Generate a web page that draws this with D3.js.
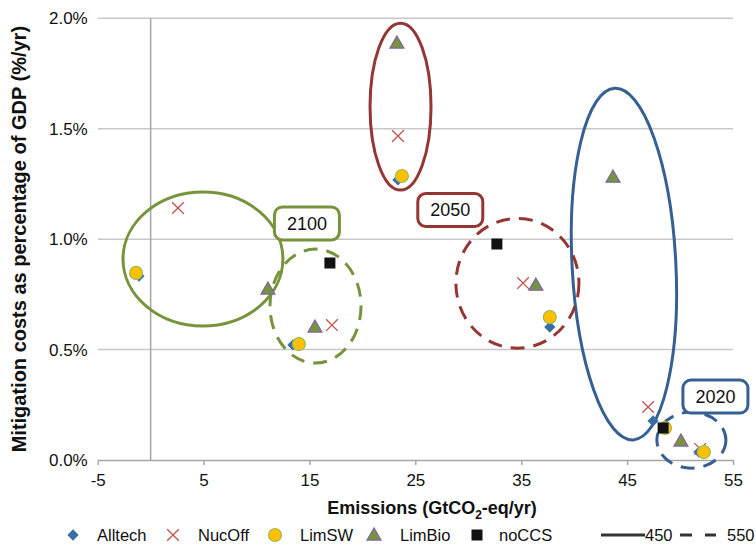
<!DOCTYPE html>
<html>
<head>
<meta charset="utf-8">
<script src="https://cdn.jsdelivr.net/npm/d3@7"></script>
<style>
  body { margin: 0; background: #fff; }
  text { font-family: "Liberation Sans", Arial, Helvetica, sans-serif; }
</style>
</head>
<body>
<div id="chart"></div>
<script>
// data (emissions GtCO2-eq/yr, cost % GDP)
const cases = ["2020-450", "2020-550", "2050-450", "2050-550", "2100-450", "2100-550"];
const seriesNames = ["Alltech", "NucOff", "LimSW", "LimBio", "noCCS"];

const alltechX = [47.45, 51.78, 23.36, 37.7, -1.1, 13.44];
const alltechY = [0.177, 0.036, 1.268, 0.602, 0.833, 0.521];
const nucoffX = [46.98, 51.9, 23.36, 35.17, 2.58, 17.12];
const nucoffY = [0.24, 0.05, 1.467, 0.801, 1.141, 0.611];
const limswX = [48.58, 52.25, 23.73, 37.7, -1.38, 14.0];
const limswY = [0.145, 0.036, 1.286, 0.647, 0.847, 0.525];
const limbioX = [43.67, 50.08, 23.26, 36.38, 11.08, 15.52];
const limbioY = [1.281, 0.086, 1.888, 0.792, 0.774, 0.602];
const noccsX = [48.4, null, null, 32.7, null, 16.93];
const noccsY = [0.145, null, null, 0.978, null, 0.892];

const xTicks = [-5, 5, 15, 25, 35, 45, 55];
const yTicks = [0, 0.5, 1.0, 1.5, 2.0];

// groupings drawn as ellipses (data units)
const groupYear = ["2020", "2020", "2050", "2050", "2100", "2100"];
const groupTarget = ["450", "550", "450", "550", "450", "550"];
const groupCx = [44.7, 51.07, 23.6, 34.64, 4.94, 15.57];
const groupCy = [0.887, 0.09, 1.60, 0.80, 0.91, 0.697];
const groupRx = [4.9, 3.26, 2.88, 5.81, 7.55, 4.3];
const groupRy = [0.797, 0.127, 0.378, 0.294, 0.303, 0.258];
const groupTilt = [-3, 0, 0, 0, 0, 0];

const yearLabels = ["2020", "2050", "2100"];
const yearLabelX = [53.34, 28.3, 14.76];
const yearLabelY = [0.287, 1.132, 1.071];

const width = 756;
const height = 547;
const margin = {top: 18.3, right: 23, bottom: 87, left: 97.7};

const yearColor = {"2020": "#376092", "2050": "#943634", "2100": "#77933c"};

const svg = d3.select("#chart")
  .append("svg")
  .attr("width", width)
  .attr("height", height);

const x = d3.scaleLinear().domain([-5, 55]).range([margin.left, width - margin.right]);
const y = d3.scaleLinear().domain([0, 2]).range([height - margin.bottom, margin.top]);

// gridlines
svg.append("g")
  .selectAll("line")
  .data(yTicks.filter(d => d > 0))
  .join("line")
  .attr("x1", x(-5)).attr("x2", x(55))
  .attr("y1", d => y(d)).attr("y2", d => y(d))
  .attr("stroke", "#c8c8c8")
  .attr("stroke-width", 1.5);

// x axis
const xAxis = svg.append("g")
  .attr("transform", `translate(0,${y(0)})`)
  .call(d3.axisBottom(x).tickValues(xTicks).tickSize(5).tickPadding(9).tickSizeOuter(0)
    .tickFormat(d => String(d)));
xAxis.select(".domain").attr("stroke", "#a6a6a6").attr("stroke-width", 1.5);
xAxis.selectAll(".tick line").attr("stroke", "#a6a6a6").attr("stroke-width", 1.5);
xAxis.selectAll(".tick text")
  .attr("font-size", 17)
  .attr("fill", "#111")
  .style("font-family", "'Liberation Sans', Arial, sans-serif");

// y labels
const yAxis = svg.append("g")
  .attr("transform", `translate(${x(-5)},0)`)
  .call(d3.axisLeft(y).tickValues(yTicks).tickSize(0).tickPadding(10).tickFormat(d => d.toFixed(1) + "%"));
yAxis.select(".domain").remove();
yAxis.selectAll(".tick text")
  .attr("font-size", 17)
  .attr("fill", "#111")
  .style("font-family", "'Liberation Sans', Arial, sans-serif");

// vertical line at zero emissions
svg.append("line")
  .attr("x1", x(0)).attr("x2", x(0))
  .attr("y1", y(2)).attr("y2", y(0))
  .attr("stroke", "#a6a6a6")
  .attr("stroke-width", 1.5);

// axis titles
const xt = svg.append("text")
  .attr("x", 432)
  .attr("y", 514)
  .attr("text-anchor", "middle")
  .attr("font-size", 18)
  .attr("font-weight", "bold")
  .attr("fill", "#111");
xt.append("tspan").text("Emissions (GtCO");
xt.append("tspan").text("2").attr("font-size", 12).attr("dy", 5);
xt.append("tspan").text("-eq/yr)").attr("dy", -5);

svg.append("text")
  .attr("transform", `translate(26,${(y(0) + y(2)) / 2}) rotate(-90)`)
  .attr("text-anchor", "middle")
  .attr("font-size", 20)
  .attr("font-weight", "bold")
  .attr("fill", "#111")
  .text("Mitigation costs as percentage of GDP (%/yr)");

// ellipses
const groups = groupYear.map((yr, i) => ({
  year: yr, target: groupTarget[i], cx: groupCx[i], cy: groupCy[i],
  rx: groupRx[i], ry: groupRy[i], tilt: groupTilt[i]
}));

svg.append("g")
  .selectAll("ellipse")
  .data(groups)
  .join("ellipse")
  .attr("transform", d => `translate(${x(d.cx)},${y(d.cy)}) rotate(${d.tilt})`)
  .attr("rx", d => x(d.rx) - x(0))
  .attr("ry", d => y(0) - y(d.ry))
  .attr("fill", "none")
  .attr("stroke", d => yearColor[d.year])
  .attr("stroke-width", 3)
  .attr("stroke-dasharray", d => d.target === "550" ? "14,9" : null);

// points
const markerDefs = {
  Alltech: {xs: alltechX, ys: alltechY},
  NucOff: {xs: nucoffX, ys: nucoffY},
  LimSW: {xs: limswX, ys: limswY},
  LimBio: {xs: limbioX, ys: limbioY},
  noCCS: {xs: noccsX, ys: noccsY}
};

function drawMarker(sel, name) {
  if (name === "Alltech") {
    sel.append("path")
      .attr("d", d3.symbol(d3.symbolSquare, 64)())
      .attr("transform", "rotate(45)")
      .attr("fill", "#3a6ea8");
  } else if (name === "NucOff") {
    sel.append("path")
      .attr("d", d3.symbol(d3.symbolTimes, 90)())
      .attr("fill", "none")
      .attr("stroke", "#c0504d")
      .attr("stroke-width", 1.3);
  } else if (name === "LimSW") {
    sel.append("circle")
      .attr("r", 6.5)
      .attr("fill", "#ffc000")
      .attr("stroke", "#9bbb59")
      .attr("stroke-width", 1.2);
  } else if (name === "LimBio") {
    sel.append("path")
      .attr("d", d3.symbol(d3.symbolTriangle, 85)())
      .attr("transform", "translate(0,1)")
      .attr("fill", "#77933c")
      .attr("stroke", "#8064a2")
      .attr("stroke-width", 1.2);
  } else {
    sel.append("rect")
      .attr("x", -5.5).attr("y", -5.5)
      .attr("width", 11).attr("height", 11)
      .attr("fill", "#111");
  }
}

seriesNames.forEach(name => {
  const s = markerDefs[name];
  const pts = cases.map((c, i) => ({c, ex: s.xs[i], cost: s.ys[i]})).filter(d => d.ex != null);
  svg.append("g")
    .selectAll("g")
    .data(pts)
    .join("g")
    .attr("transform", d => `translate(${x(d.ex)},${y(d.cost)})`)
    .each(function() { drawMarker(d3.select(this), name); });
});

// year labels
const labels = svg.append("g")
  .selectAll("g")
  .data(yearLabels.map((t, i) => ({t, lx: yearLabelX[i], ly: yearLabelY[i]})))
  .join("g")
  .attr("transform", d => `translate(${x(d.lx)},${y(d.ly)})`);
labels.append("rect")
  .attr("x", -32.5).attr("y", -16.5)
  .attr("width", 65).attr("height", 33)
  .attr("rx", 8)
  .attr("fill", "#fff")
  .attr("stroke", d => yearColor[d.t])
  .attr("stroke-width", 3);
labels.append("text")
  .attr("text-anchor", "middle")
  .attr("dy", "0.36em")
  .attr("font-size", 18)
  .attr("fill", "#111")
  .text(d => d.t);

// legend
const legendY = 535;
const legendSymX = [73, 173, 275, 374, 477];
const legendTextX = [97, 198, 300, 400, 499];
const legend = svg.append("g");
seriesNames.forEach((name, i) => {
  const g = legend.append("g").attr("transform", `translate(${legendSymX[i]},${legendY})`);
  drawMarker(g, name);
  legend.append("text")
    .attr("x", legendTextX[i]).attr("y", legendY)
    .attr("dy", "0.36em")
    .attr("font-size", 16.5)
    .attr("fill", "#111")
    .text(name);
});
legend.append("line")
  .attr("x1", 601).attr("x2", 645).attr("y1", legendY).attr("y2", legendY)
  .attr("stroke", "#333").attr("stroke-width", 3);
legend.append("text")
  .attr("x", 645).attr("y", legendY).attr("dy", "0.36em")
  .attr("font-size", 16.5).attr("fill", "#111").text("450");
legend.append("line")
  .attr("x1", 680).attr("x2", 716).attr("y1", legendY).attr("y2", legendY)
  .attr("stroke", "#333").attr("stroke-width", 3)
  .attr("stroke-dasharray", "12,13");
legend.append("text")
  .attr("x", 727).attr("y", legendY).attr("dy", "0.36em")
  .attr("font-size", 16.5).attr("fill", "#111").text("550");
</script>
</body>
</html>
